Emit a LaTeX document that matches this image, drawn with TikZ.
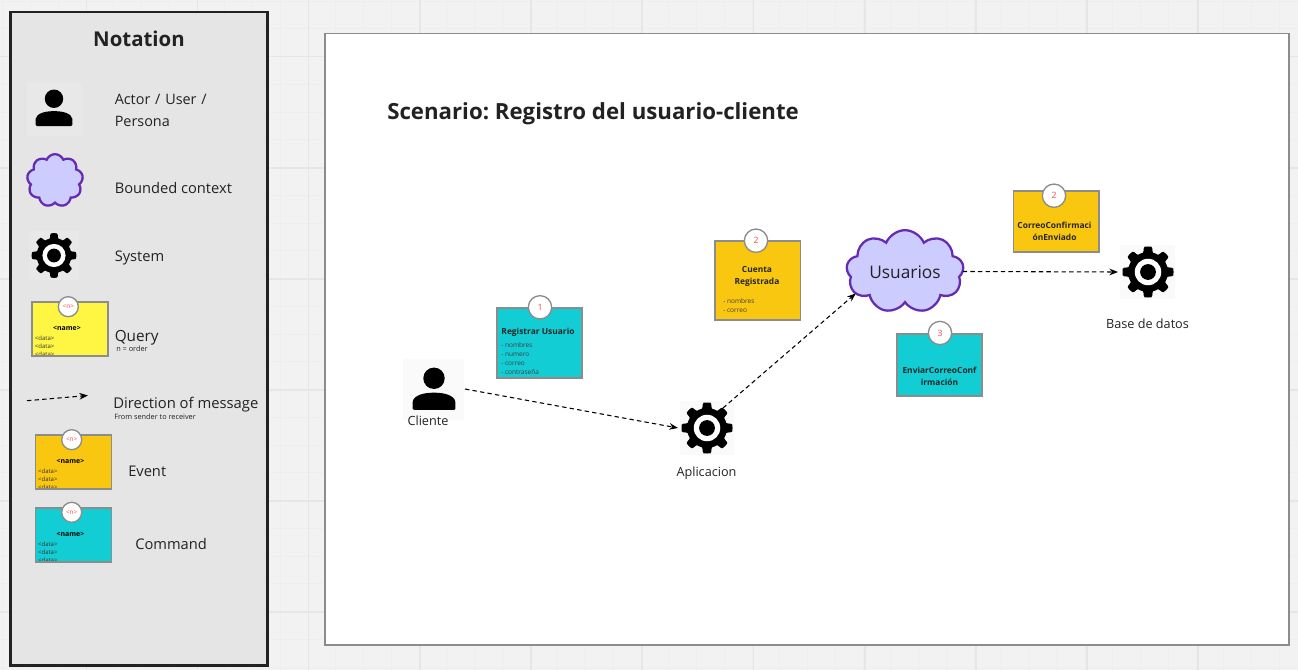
\documentclass[tikz,border=0pt]{standalone}
\usepackage{fontspec}
\setmainfont{Open Sans}
\frenchspacing
\usetikzlibrary{shapes.symbols,arrows.meta}
\definecolor{pagegray}{HTML}{F2F2F2}
\definecolor{gridminor}{HTML}{EEEEEE}
\definecolor{gridmajor}{HTML}{E6E6E6}
\definecolor{panelgray}{HTML}{E5E5E5}
\definecolor{iconpanel}{HTML}{E8E8E8}
\definecolor{framedark}{HTML}{222222}
\definecolor{querycol}{HTML}{FFF543}
\definecolor{eventcol}{HTML}{FAC710}
\definecolor{commandcol}{HTML}{12CDD4}
\definecolor{cloudfill}{HTML}{CCCCFF}
\definecolor{cloudline}{HTML}{652CB3}
\definecolor{notegray}{HTML}{8C8C8C}
\definecolor{badgered}{HTML}{F24D4D}
\definecolor{inkgray}{HTML}{222222}
\newcommand{\pxfont}[1]{\fontsize{#1}{#1}\selectfont}
\newcommand{\keydata}[1]{
	\begin{scope}
		\clip (#1.north west) rectangle (#1.south east);
		\node[txt, font=\pxfont{4.5}, align=left, anchor=north west, text=black!80] at ([xshift=1.8pt,yshift=-25.6pt]#1.north west) {<data>\\[1.5pt]<data>\\[1.5pt]<data>};
	\end{scope}
	\draw[draw=notegray, line width=1.3pt] (#1.north west) rectangle (#1.south east);
}
\tikzset{
	txt/.style={inner sep=0pt, text=inkgray, font=\pxfont{11}},
	small/.style={txt, font=\pxfont{5.5}, align=left},
	listing/.style={txt, font=\pxfont{4.9}, align=left, anchor=north west, text=black!75},
	notetitle/.style={txt, font=\pxfont{6.3}\bfseries, text=black!85, align=center},
	note/.style={draw=notegray, line width=1.3pt, inner sep=0pt, outer sep=0pt, anchor=north west, minimum width=64pt, fill=#1},
	keynote/.style={note=#1, minimum width=57pt, minimum height=40.5pt},
	badge/.style={circle, draw=notegray, fill=white, line width=1pt, minimum size=17.5pt, inner sep=0pt, text=badgered, font=\pxfont{6.5}},
	keybadge/.style={badge, minimum size=15pt, font=\pxfont{4.8}},
	keyname/.style={txt, font=\pxfont{5.2}\bfseries, text=black},
	iconbox/.style={inner sep=0pt, outer sep=0pt, minimum size=#1},
	msg/.style={line width=0.8pt, dash pattern=on 3.3pt off 2.4pt, -{Stealth[length=6.5pt,width=5pt]}},
	usercloud/.style={cloud, cloud puffs=9, cloud puff arc=135, draw=cloudline, fill=cloudfill, line width=1.7pt, inner sep=0pt, outer sep=0pt},
	pics/gear/.style={code={
		\fill[black] (0:#1) \foreach \a in {0,2.5,...,357.5} {
			-- ({\a}:{#1*(0.78+0.22*max(0,min(1,1.6*cos(8*\a)+0.5)))})
		} -- cycle;
		\fill[white] (0,0) circle ({#1*0.52});
		\fill[black] (0,0) circle ({#1*0.31});
	}},
	pics/person/.style={code={
		\fill[black] (0,{-#1*0.42}) circle ({#1*0.42});
		\fill[black, rounded corners=1pt] ({-#1*0.84},{#1*0.82}) -- ({-#1*0.84},{#1*0.55})
			.. controls ({-#1*0.80},{#1*0.25}) and ({-#1*0.40},{#1*0.145}) .. (0,{#1*0.145})
			.. controls ({#1*0.40},{#1*0.145}) and ({#1*0.80},{#1*0.25}) .. ({#1*0.84},{#1*0.55})
			-- ({#1*0.84},{#1*0.82}) -- cycle;
	}}
}
\begin{document}
\begin{tikzpicture}[x=0.75pt,y=-0.75pt]
	\useasboundingbox (0,0) rectangle (1298,670);
	% canvas
	\fill[pagegray] (0,0) rectangle (1298,670);
	\foreach \i in {0,...,47} \draw[gridminor, line width=0.6pt] ({-25+27.75*\i},0) -- ({-25+27.75*\i},670);
	\foreach \i in {0,...,24} \draw[gridminor, line width=0.6pt] (0,{1+27.75*\i}) -- (1298,{1+27.75*\i});
	\foreach \x in {86.5,197.5,308.5,420,531,642,753.5,865,976,1087,1198} \draw[gridmajor, line width=1pt] (\x,0) -- (\x,670);
	\foreach \y in {56.5,168,279,390,501,612} \draw[gridmajor, line width=1pt] (0,\y) -- (1298,\y);

	% notation panel
	\node[draw=framedark, fill=panelgray, line width=1.9pt, inner sep=0pt, outer sep=0pt, minimum width=192.8pt, minimum height=490pt, anchor=north west] (panel) at (10.3,12.2) {};
	\node[txt, font=\pxfont{15.3}\bfseries] (title) at (139,38.5) {Notation};

	\fill[iconpanel] (27,82) rectangle (82,136);
	\node[iconbox=30pt] (actorkey) at (54,108) {};
	\pic at (actorkey) {person={22}};
	\node[txt, align=left, anchor=west, text width=110pt, font=\pxfont{10.8}] (actortxt) at (114.5,110.5) {Actor / User /\\[5.6pt]Persona};

	\node[usercloud, minimum width=42pt, minimum height=39.5pt] (contextkey) at (55,180.5) {};
	\node[txt, anchor=west] (contexttxt) at (114.5,188) {Bounded context};

	\fill[iconpanel] (30,231) rectangle (79,280);
	\node[iconbox=30pt] (systemkey) at (54,255.5) {};
	\pic at (systemkey) {gear={22.3}};
	\node[txt, anchor=west] (systemtxt) at (114.5,258) {System};

	% keys for the note types
	\node[keynote=querycol] (querykey) at (32.3,302) {};
	\keydata{querykey}
	\node[keybadge] (queryn) at (68.3,306.7) {<n>};
	\node[keyname] at (67,328.5) {<name>};
	\node[txt, font=\pxfont{11.5}, anchor=west] (querytxt) at (114.5,338) {Query};
	\node[small, anchor=west] at (116,348.5) {n = order};

	\coordinate (msgfrom) at (27,400.7);
	\coordinate (msgto) at (88,395.5);
	\path[draw, msg] (msgfrom) -- (msgto);
	\node[txt, font=\pxfont{11.1}, anchor=west] (msgtxt) at (113,404.5) {Direction of message};
	\node[small, anchor=west] at (114,417) {From sender to receiver};

	\node[keynote=eventcol] (eventkey) at (35.5,435) {};
	\keydata{eventkey}
	\node[keybadge] (eventn) at (71.7,439.7) {<n>};
	\node[keyname] at (70.5,461.5) {<name>};
	\node[txt, anchor=west] (eventtxt) at (128,471.5) {Event};

	\node[keynote=commandcol] (commandkey) at (35.5,507.7) {};
	\keydata{commandkey}
	\node[keybadge] (commandn) at (71.7,512.3) {<n>};
	\node[keyname] at (70.5,534) {<name>};
	\node[txt, anchor=west] (commandtxt) at (135,544) {Command};

	% scenario
	\node[draw=notegray, fill=white, line width=1.1pt, inner sep=0pt, outer sep=0pt, minimum width=723pt, minimum height=458.4pt, anchor=north west] (board) at (325,33.7) {};
	\node[txt, font=\pxfont{16.68}\bfseries, anchor=west] (scenario) at (387,113.5) {Scenario: Registro del usuario-cliente};

	\fill[black!2] (402.5,358.5) rectangle (464,420);
	\node[iconbox=46.5pt] (cliente) at (434,389) {};
	\pic at (cliente) {person={25.5}};
	\node[txt, font=\pxfont{9.5}] (clientetxt) at (428,421) {Cliente};

	\fill[black!2] (680,401) rectangle (734,455);
	\node[iconbox=43.5pt] (aplicacion) at (707,428) {};
	\pic at (aplicacion) {gear={25.5}};
	\node[txt, font=\pxfont{9.5}] (aplicaciontxt) at (706.5,473) {Aplicacion};

	\node[usercloud, minimum width=88pt, minimum height=62pt] (usuarios) at (905,271.5) {};
	\node[txt, font=\pxfont{13}] (usuariostxt) at (905,272.5) {Usuarios};

	\fill[black!2] (1120,245) rectangle (1175,299);
	\node[iconbox=45pt] (basedatos) at (1148,272) {};
	\pic at (basedatos) {gear={25.5}};
	\node[txt, font=\pxfont{9.5}] (basedatostxt) at (1147.5,324) {Base de datos};

	% notes
	\node[note=commandcol, minimum height=52.5pt] (registrar) at (497,308.3) {};
	\node[badge] (registrarn) at (540,307.3) {1};
	\node[notetitle] at (538,332.5) {Registrar Usuario};
	\node[listing] at (501,342.5) {- nombres\\[1.85pt]- numero\\[1.85pt]- correo\\[1.85pt]- contraseña};

	\node[note=eventcol, minimum height=59.4pt] (cuenta) at (715.2,241) {};
	\node[badge] (cuentan) at (756,240.7) {2};
	\node[notetitle] at (757,276.5) {Cuenta\\[2.5pt]Registrada};
	\node[listing] at (723,298.5) {- nombres\\[1.85pt]- correo};

	\node[note=commandcol, minimum height=46.3pt] (enviar) at (897,334) {};
	\node[badge] (enviarn) at (940,333) {3};
	\node[notetitle] at (939.5,376) {EnviarCorreoConf\\[2.5pt]irmación};

	\node[note=eventcol, minimum height=46pt] (correo) at (1013.5,190.7) {};
	\node[badge] (correon) at (1054,195.7) {2};
	\node[notetitle] at (1054.5,231.5) {CorreoConfirmaci\\[2.5pt]ónEnviado};

	% messages
	\coordinate (aplicacionout) at (723,408);
	\path[draw, msg] (cliente.east) -- (aplicacion.west);
	\path[draw, msg] (aplicacionout) -- (usuarios.204);
	\path[draw, msg] (usuarios.east) -- (basedatos.west);
\end{tikzpicture}
\end{document}
